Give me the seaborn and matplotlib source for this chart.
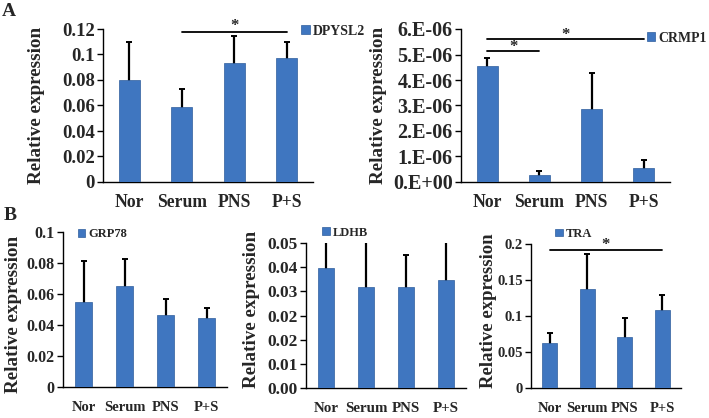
import matplotlib
matplotlib.use("Agg")
import matplotlib.pyplot as plt
import seaborn as sns
import numpy as np
import pandas as pd

sns.set_style("white")
plt.rcParams['font.family'] = ['Liberation Serif', 'DejaVu Serif']
plt.rcParams['font.weight'] = 'bold'

categories = ["Nor", "Serum", "PNS", "P+S"]

dpysl2_mean = [0.080, 0.059, 0.093, 0.097]
dpysl2_top = [0.1095, 0.0728, 0.1143, 0.110]
dpysl2_ticks = [0, 0.02, 0.04, 0.06, 0.08, 0.10, 0.12]
dpysl2_ticklabels = ["0", "0.02", "0.04", "0.06", "0.08", "0.1", "0.12"]

crmp1_mean = [4.53e-6, 0.26e-6, 2.87e-6, 0.54e-6]
crmp1_top = [4.87e-6, 0.45e-6, 4.28e-6, 0.86e-6]
crmp1_ticks = [0, 1e-6, 2e-6, 3e-6, 4e-6, 5e-6, 6e-6]
crmp1_ticklabels = ["0.E+00", "1.E-06", "2.E-06", "3.E-06", "4.E-06", "5.E-06", "6.E-06"]

grp78_mean = [0.0551, 0.0654, 0.0462, 0.0443]
grp78_top = [0.0812, 0.0828, 0.0565, 0.0510]
grp78_ticks = [0, 0.02, 0.04, 0.06, 0.08, 0.1]
grp78_ticklabels = ["0", "0.02", "0.04", "0.06", "0.08", "0.1"]

ldhb_mean = [0.0415, 0.0348, 0.0348, 0.0372]
ldhb_top = [0.056, 0.053, 0.0460, 0.054]
ldhb_ticks = [0, 0.05/6, 0.10/6, 0.15/6, 0.20/6, 0.25/6, 0.05]
ldhb_ticklabels = ["0.00", "0.01", "0.02", "0.02", "0.03", "0.04", "0.05"]

tra_mean = [0.0628, 0.1377, 0.0707, 0.1088]
tra_top = [0.0767, 0.1865, 0.0977, 0.1288]
tra_ticks = [0, 0.05, 0.1, 0.15, 0.2]
tra_ticklabels = ["0", "0.05", "0.1", "0.15", "0.2"]

BAR = "#3f76c0"
EDGE = "#2f5d9c"

fig = plt.figure(figsize=(7.09, 4.18), dpi=100)

def px_axes(x0, y0, x1, y1):
    W, H = 709, 418
    return fig.add_axes([x0 / W, 1 - y1 / H, (x1 - x0) / W, (y1 - y0) / H])

def panel(ax, mean, top, gene, ticks, ticklabels, ymax, tick_fs, xfs, label_x, label_y,
          leg_xy, leg_fs, xpad=10, label_fs=13.8):
    df = pd.DataFrame({"cat": categories, "val": mean})
    sns.barplot(data=df, x="cat", y="val", color=BAR, width=0.4, errorbar=None,
                ax=ax, label=gene, saturation=1, edgecolor=EDGE, linewidth=0.5, zorder=3)
    err = np.array(top) - np.array(mean)
    ax.errorbar(np.arange(len(categories)), mean, yerr=err, fmt="none",
                ecolor="black", elinewidth=1.6, capsize=2, capthick=1.4, zorder=2)
    ax.set_ylim(0, ymax)
    ax.set_xlim(-0.5, 3.5)
    ax.set_yticks(ticks)
    ax.set_yticklabels(ticklabels, fontsize=tick_fs, fontweight="bold")
    ax.set_xticks(range(len(categories)))
    ax.set_xticklabels(categories, fontsize=xfs, fontweight="bold")
    ax.set_xticks([-0.5, 0.5, 1.5, 2.5, 3.5], minor=True)
    ax.tick_params(axis="x", which="major", length=0, pad=xpad)
    ax.tick_params(axis="x", which="minor", length=4, width=1, direction="out", color="black")
    ax.tick_params(axis="y", length=4, width=1, direction="out", color="black", left=True, pad=2)
    ax.set_xlabel("")
    ax.set_ylabel("Relative expression", fontsize=label_fs, fontweight="bold")
    ax.yaxis.set_label_coords(label_x, label_y)
    for s in ["top", "right"]:
        ax.spines[s].set_visible(False)
    for s in ["left", "bottom"]:
        ax.spines[s].set_color("black")
        ax.spines[s].set_linewidth(1)
    ax.legend(loc="center left", bbox_to_anchor=leg_xy, frameon=False,
              handlelength=0.6, handleheight=0.6, handletextpad=0.25,
              borderpad=0, borderaxespad=0, prop={"weight": "bold", "size": leg_fs})

def sig(ax, x0, x1, y, star_x, star_y):
    ax.plot([x0, x1], [y, y], color="black", lw=1.3, clip_on=False, zorder=4)
    ax.text(star_x, star_y, "*", ha="center", va="bottom", fontsize=12, fontweight="bold")

# Panel A
axA1 = px_axes(103, 29, 313, 182)
panel(axA1, dpysl2_mean, dpysl2_top, "DPYSL2", dpysl2_ticks, dpysl2_ticklabels, 0.12,
      13.5, 12.7, -0.276, 0.5, (0.945, 0.985), 10, xpad=9)
sig(axA1, 1, 3, 0.118, 2, 0.1162)

axA2 = px_axes(461, 29, 670, 182)
panel(axA2, crmp1_mean, crmp1_top, "CRMP1", crmp1_ticks, crmp1_ticklabels, 6e-6,
      14.5, 12.7, -0.354, 0.5, (0.89, 0.94), 10, xpad=9)
sig(axA2, 0, 1, 5.12e-6, 0.5, 4.98e-6)
sig(axA2, 0, 3, 5.61e-6, 1.5, 5.47e-6)

# Panel B
axB1 = px_axes(63, 232, 227, 387)
panel(axB1, grp78_mean, grp78_top, "GRP78", grp78_ticks, grp78_ticklabels, 0.1,
      11.5, 10.5, -0.25, 0.47, (0.09, 0.985), 9)

axB2 = px_axes(306, 243, 466, 388)
panel(axB2, ldhb_mean, ldhb_top, "LDHB", ldhb_ticks, ldhb_ticklabels, 0.05,
      12.5, 10.8, -0.2875, 0.545, (0.1, 1.07), 9)

axB3 = px_axes(531, 244, 681, 388)
panel(axB3, tra_mean, tra_top, "TRA", tra_ticks, tra_ticklabels, 0.2,
      10.5, 10.5, -0.227, 0.54, (0.16, 1.07), 9, label_fs=13.5)
sig(axB3, 0, 3, 0.1916, 1.5, 0.1875)

fig.text(9 / 709, 1 - 12 / 418, "A", fontsize=14, fontweight="bold", ha="center", va="center")
fig.text(10 / 709, 1 - 216 / 418, "B", fontsize=14, fontweight="bold", ha="center", va="center")

fig.savefig("out.png", dpi=100)
